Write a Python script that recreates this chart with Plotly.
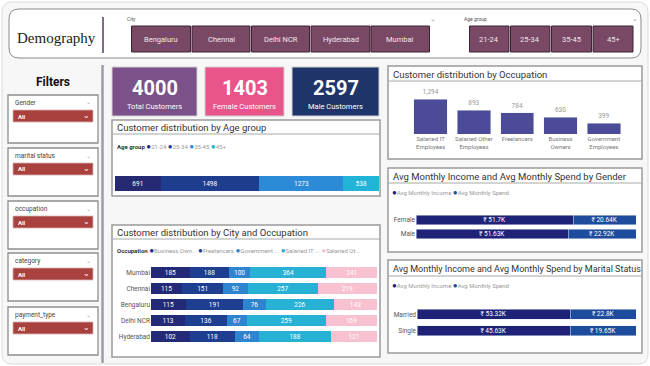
import plotly.graph_objects as go

W, H = 650, 366
def X(p): return p / W
def Y(p): return 1 - p / H

# ---------------- data ----------------
city_buttons = ["Bengaluru", "Chennai", "Delhi NCR", "Hyderabad", "Mumbai"]
age_buttons = ["21-24", "25-34", "35-45", "45+"]
filter_names = ["Gender", "marital status", "occupation", "category", "payment_type"]

kpi_labels = ["Total Customers", "Female Customers", "Male Customers"]
kpi_values = [4000, 1403, 2597]

age_groups = ["21-24", "25-34", "35-45", "45+"]
age_counts = [691, 1498, 1273, 538]

city_rows = ["Mumbai", "Chennai", "Bengaluru", "Delhi NCR", "Hyderabad"]
occ_legend = ["Business Own...", "Freelancers", "Government ...", "Salaried IT ...", "Salaried Ot..."]
business_owners = [185, 115, 115, 113, 102]
freelancers = [188, 151, 191, 136, 118]
government = [100, 92, 76, 67, 64]
salaried_it = [364, 257, 226, 259, 188]
salaried_other = [241, 219, 143, 169, 121]

occ_names = ["Salaried IT<br>Employees", "Salaried Other<br>Employees", "Freelancers",
             "Business<br>Owners", "Government<br>Employees"]
occ_counts = [1294, 893, 784, 630, 399]

genders = ["Female", "Male"]
gender_income = [51.7, 51.63]
gender_spend = [20.64, 22.92]

marital = ["Married", "Single"]
marital_income = [53.32, 45.63]
marital_spend = [22.8, 19.65]

# ---------------- styles ----------------
FONT = "Roboto"
AGE_COLORS = ["#262a73", "#1f3d8e", "#2c8ad6", "#22b4d8"]
OCC_COLORS = ["#232a78", "#1e3e90", "#2e85cf", "#27b1d5", "#f8c1cf"]
INCOME_C, SPEND_C = "#1f2378", "#1e4c9c"
OCC_BAR = "#4b4b97"
KPI_COLORS = ["#7c5088", "#e9558a", "#1f3569"]
BTN_FILL, BTN_LINE = "#784865", "#3d2433"
RED = "#a9423f"

fig = go.Figure()
shapes, ann = [], []

def rect(x0, y0, x1, y1, fill="white", line="#9a9a9a", lw=1.2, layer="below"):
    shapes.append(dict(type="rect", xref="paper", yref="paper", x0=X(x0), x1=X(x1), y0=Y(y1), y1=Y(y0),
                       fillcolor=fill, line=dict(color=line, width=lw), layer=layer))

def line(x0, y0, x1, y1, color="#9a9a9a", lw=1, layer="below"):
    shapes.append(dict(type="line", xref="paper", yref="paper", x0=X(x0), x1=X(x1), y0=Y(y0), y1=Y(y1),
                       line=dict(color=color, width=lw), layer=layer))

def rr(x0, y0, x1, y1, r, fill="white", lc="#8a8a8a", lw=1):
    pts = [("M", (x0 + r, y0)), ("L", (x1 - r, y0)), ("Q", (x1, y0), (x1, y0 + r)), ("L", (x1, y1 - r)),
           ("Q", (x1, y1), (x1 - r, y1)), ("L", (x0 + r, y1)), ("Q", (x0, y1), (x0, y1 - r)),
           ("L", (x0, y0 + r)), ("Q", (x0, y0), (x0 + r, y0))]
    s = ""
    for cmd, *ps in pts:
        s += cmd + " " + " ".join(f"{X(a):.5f},{Y(b):.5f}" for a, b in ps) + " "
    shapes.append(dict(type="path", xref="paper", yref="paper", path=s + "Z", fillcolor=fill,
                       line=dict(color=lc, width=lw), layer="below"))

def text(x, y, t, size=8, color="#333", xa="left", ya="middle", family=FONT, bold=False):
    if bold:
        t = f"<b>{t}</b>"
    ann.append(dict(x=X(x), y=Y(y), xref="paper", yref="paper", text=t, showarrow=False,
                    xanchor=xa, yanchor=ya, font=dict(size=size, color=color, family=family)))

# ---------------- page frame ----------------
rr(2, 2, 648, 364, 10, fill="#f7f7f7", lc="#dcdcdc", lw=1)

# ---------------- header ----------------
rr(9, 9, 641, 58, 10, fill="white", lc="#8a8a8a", lw=1)
text(15, 38, "Demography", size=15, color="#222", family="Liberation Serif")
line(103, 17, 103, 53, color="#7a6f8a", lw=2)
text(125, 19, "City", size=5, color="#555")
text(433, 19, "⌄", size=7, color="#999", xa="center")
text(462, 19, "Age group", size=5, color="#555")
text(635, 19, "⌄", size=7, color="#999", xa="center")
city_x = [(131.5, 190.5), (192, 250), (251.5, 309.5), (311, 370), (371, 429.5)]
for (a, b), name in zip(city_x, city_buttons):
    rect(a, 26, b, 52, fill=BTN_FILL, line=BTN_LINE, lw=1, layer="above")
    text((a + b) / 2, 39, name, size=7.5, color="#f3e6ee", xa="center")
age_x = [(469.5, 509), (510.5, 550), (551.5, 591.5), (593, 633)]
for (a, b), name in zip(age_x, age_buttons):
    rect(a, 26, b, 52, fill=BTN_FILL, line=BTN_LINE, lw=1, layer="above")
    text((a + b) / 2, 39, name, size=7.5, color="#f3e6ee", xa="center")

# ---------------- filters ----------------
text(53, 82, "Filters", size=12, color="#111", xa="center", bold=True)
line(102.5, 65, 102.5, 363, color="#9d9da3", lw=2.5)
box_tops = [95, 148, 201, 253, 307]
for top, name in zip(box_tops, filter_names):
    rect(8, top, 98, top + 48, fill="white", line="#8e8e8e", lw=1.3)
    text(13, top + 8, name, size=6.5, color="#444")
    text(88, top + 7, "⌄", size=6, color="#aaa", xa="center")
    rect(13, top + 15, 93, top + 27, fill=RED, line="#d8b0b0", lw=0.8, layer="above")
    text(16, top + 21, "All", size=6, color="white", bold=True)
    text(86, top + 20, "⌄", size=8, color="white", xa="center")

# ---------------- KPI cards ----------------
kpi_x = [(112, 197), (205, 284), (292, 379)]
for (a, b), v, lab, c in zip(kpi_x, kpi_values, kpi_labels, KPI_COLORS):
    rect(a, 67, b, 116, fill=c, line="#cfcfcf", lw=1)
    text((a + b) / 2, 88, str(v), size=20, color="white", xa="center", bold=True)
    text((a + b) / 2, 106, lab, size=7.5, color="white", xa="center")

# ---------------- panels ----------------
def panel(x0, y0, x1, y1, title, ty, size=9.5):
    rect(x0, y0, x1, y1, fill="white", line="#9a9a9a", lw=1.5)
    text(x0 + 3, ty, title, size=size, color="#333")
    line(x0, ty + 7, x1, ty + 7, color="#a8a8a8", lw=1)

panel(112, 120, 380, 196, "Customer distribution by Age group", 127)
panel(112, 225, 380, 357, "Customer distribution by City and Occupation", 232)
panel(388, 66, 642, 159, "Customer distribution by Occupation", 74)
panel(388, 168, 642, 252, "Avg Monthly Income and Avg Monthly Spend by Gender", 176)
panel(388, 260, 642, 353, "Avg Monthly Income and Avg Monthly Spend by Marital Status", 269, size=9)

def dot(c):
    return f"<span style='color:{c};font-size:8px'>●</span>"

text(115, 146, "<b>Age group</b> " + " ".join(f"{dot(c)}<span style='color:#999'>{g}</span>" for g, c in zip(age_groups, AGE_COLORS)), size=6, color="#333")
text(115, 250, "<b>Occupation</b> " + " ".join(f"{dot(c)}<span style='color:#999'>{g}</span>" for g, c in zip(occ_legend, OCC_COLORS)), size=6, color="#333")
leg2 = f"{dot(INCOME_C)}<span style='color:#999'>Avg Monthly Income</span> {dot(SPEND_C)}<span style='color:#999'>Avg Monthly Spend</span>"
text(390, 192, leg2, size=6)
text(390, 285, leg2, size=6)

# ---------------- traces ----------------
TF = dict(size=6.5, color="white", family=FONT)

# age group (100% single bar)
age_total = sum(age_counts)
for g, v, c in zip(age_groups, age_counts, AGE_COLORS):
    fig.add_trace(go.Bar(x=[v / age_total], y=["Age"], orientation="h", marker=dict(color=c, line=dict(width=0)),
                         text=[str(v)], textposition="inside", insidetextanchor="middle", textfont=TF,
                         textangle=0, width=1, xaxis="x", yaxis="y", showlegend=False, name=g))

# city x occupation (100% stacked)
occ_series = [business_owners, freelancers, government, salaried_it, salaried_other]
row_totals = [sum(vals) for vals in zip(*occ_series)]
for name, vals, c in zip(occ_legend, occ_series, OCC_COLORS):
    fig.add_trace(go.Bar(x=[v / t for v, t in zip(vals, row_totals)], y=city_rows, orientation="h",
                         marker=dict(color=c, line=dict(width=0)), text=[str(v) for v in vals],
                         textposition="inside", insidetextanchor="middle", textfont=TF, textangle=0,
                         width=0.69, xaxis="x2", yaxis="y2", showlegend=False, name=name))

# occupation column chart
fig.add_trace(go.Bar(x=occ_names, y=occ_counts, marker=dict(color=OCC_BAR), width=0.77,
                     text=[f"{v:,}" for v in occ_counts], textposition="outside", cliponaxis=False,
                     textangle=0, textfont=dict(size=6, color="#999", family=FONT),
                     xaxis="x3", yaxis="y3", showlegend=False))

# gender / marital (100% stacked)
def money(v):
    return f"₹ {v:g}K"

for cats, inc, spd, xa, ya, w in [(genders, gender_income, gender_spend, "x4", "y4", 0.68),
                                  (marital, marital_income, marital_spend, "x5", "y5", 0.62)]:
    tot = [a + b for a, b in zip(inc, spd)]
    fig.add_trace(go.Bar(x=[a / t for a, t in zip(inc, tot)], y=cats, orientation="h", marker=dict(color=INCOME_C),
                         text=[money(v) for v in inc], textposition="inside", insidetextanchor="middle",
                         textfont=TF, textangle=0, width=w, xaxis=xa, yaxis=ya, showlegend=False))
    fig.add_trace(go.Bar(x=[b / t for b, t in zip(spd, tot)], y=cats, orientation="h", marker=dict(color=SPEND_C),
                         text=[money(v) for v in spd], textposition="inside", insidetextanchor="middle",
                         textfont=TF, textangle=0, width=w, xaxis=xa, yaxis=ya, showlegend=False))

hidden_x = dict(visible=False, range=[0, 1], fixedrange=True)
cat_y = dict(type="category", autorange="reversed", showgrid=False, zeroline=False, showline=False,
             ticks="", tickfont=dict(size=6.5, color="#555", family=FONT))

fig.update_layout(
    width=W, height=H, margin=dict(l=0, r=0, t=0, b=0),
    paper_bgcolor="white", plot_bgcolor="rgba(0,0,0,0)",
    barmode="stack", showlegend=False,
    uniformtext=dict(minsize=6.5, mode="show"),
    shapes=shapes, annotations=ann,
    font=dict(family=FONT),
    xaxis=dict(hidden_x, domain=[X(115), X(379)], anchor="y"),
    yaxis=dict(visible=False, domain=[Y(191), Y(176)], anchor="x", range=[-0.5, 0.5]),
    xaxis2=dict(hidden_x, domain=[X(151), X(377)], anchor="y2"),
    yaxis2=dict(cat_y, domain=[Y(344.5), Y(264.5)], anchor="x2"),
    xaxis3=dict(domain=[X(409), X(625.5)], anchor="y3", showgrid=False, zeroline=False, showline=False,
                ticks="", tickfont=dict(size=6, color="#777", family=FONT), tickangle=0),
    yaxis3=dict(visible=False, domain=[Y(134), Y(94)], anchor="x3", range=[0, 1490]),
    xaxis4=dict(hidden_x, domain=[X(416), X(636)], anchor="y4"),
    yaxis4=dict(cat_y, domain=[Y(241), Y(213)], anchor="x4"),
    xaxis5=dict(hidden_x, domain=[X(417), X(636)], anchor="y5"),
    yaxis5=dict(cat_y, domain=[Y(339), Y(306)], anchor="x5"),
)

fig.write_html("out.html", config={"displayModeBar": False},
               post_script="document.body.style.margin='0';document.body.style.overflow='hidden';")
